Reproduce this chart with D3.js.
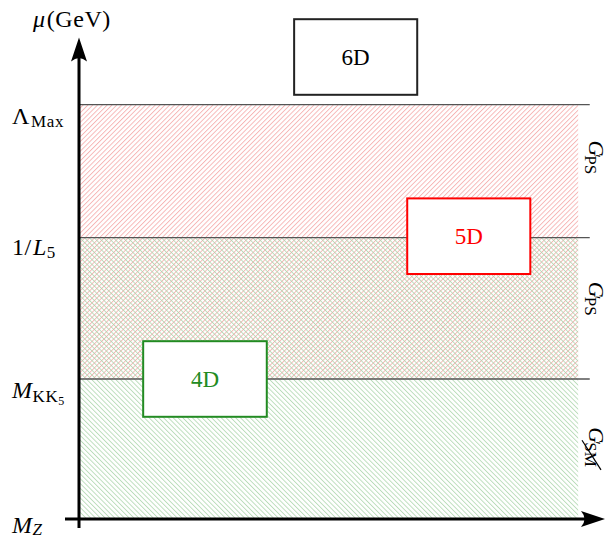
<!DOCTYPE html>
<html><head><meta charset="utf-8">
<script src="https://cdn.jsdelivr.net/npm/d3@7"></script>
<style>
html,body{margin:0;padding:0;background:#fff;}
svg{display:block;}
text{font-family:"Liberation Serif","DejaVu Serif",serif;}
</style></head>
<body>
<svg id="chart" width="608" height="538"></svg>
<script>
// ---- data ----
// energy levels (arbitrary log-scale units)
const levelNames = ["M_Z", "M_KK5", "1/L5", "Lambda_Max"];
const levelValues = [0, 1.0, 2.01, 2.96];
const axisTop = 3.44;
// hatched regions (x extent in axis units 0..100)
const regionNames = ["red", "green"];
const regionFrom = [1.0, 0];
const regionTo = [2.96, 2.01];
const regionXEnd = 94.9;
const lineXEnd = 97.1;
// boxes
const boxLabels = ["6D", "5D", "4D"];
const boxX0 = [40.9, 62.4, 12.2];
const boxX1 = [64.3, 85.8, 35.7];
const boxY0 = [3.03, 1.75, 0.73];
const boxY1 = [3.57, 2.29, 1.27];
const boxColors = ["#222", "#ff0000", "#228b22"];
// right-side group labels
const groupSub = ["PS", "PS", "SM"];
const groupCenter = [2.58, 1.57, 0.51];
const groupCancel = [false, false, true];

const svg = d3.select("#chart");
const x = d3.scaleLinear().domain([0, 100]).range([79, 605]);
const y = d3.scaleLinear().domain([0, 1]).range([519, 379]);

// patterns
const defs = svg.append("defs");
function hatch(id, color, angle) {
  const p = defs.append("pattern").attr("id", id).attr("patternUnits", "userSpaceOnUse")
    .attr("width", 3.4).attr("height", 3.4).attr("patternTransform", `rotate(${angle})`);
  p.append("line").attr("x1", 0.5).attr("y1", 0).attr("x2", 0.5).attr("y2", 3.4)
    .attr("stroke", color).attr("stroke-width", 0.75);
}
hatch("hRed", "#f4a2a2", 45);
hatch("hGreen", "#a8d4a8", -45);
const fills = {red: "url(#hRed)", green: "url(#hGreen)"};

svg.append("g").selectAll("rect").data(regionNames).join("rect")
  .attr("x", x(0)).attr("width", x(regionXEnd) - x(0))
  .attr("y", (d, i) => y(regionTo[i]))
  .attr("height", (d, i) => y(regionFrom[i]) - y(regionTo[i]))
  .attr("fill", d => fills[d]);

// level lines
svg.append("g").selectAll("line").data(levelValues.slice(1)).join("line")
  .attr("x1", x(0)).attr("x2", x(lineXEnd))
  .attr("y1", d => y(d)).attr("y2", d => y(d))
  .attr("stroke", "#555").attr("stroke-width", 1.3);

// boxes
const bg = svg.append("g").selectAll("g").data(boxLabels).join("g");
bg.append("rect")
  .attr("x", (d, i) => x(boxX0[i])).attr("width", (d, i) => x(boxX1[i]) - x(boxX0[i]))
  .attr("y", (d, i) => y(boxY1[i])).attr("height", (d, i) => y(boxY0[i]) - y(boxY1[i]))
  .attr("fill", "#fff").attr("stroke", (d, i) => boxColors[i]).attr("stroke-width", 2);
bg.append("text")
  .attr("x", (d, i) => (x(boxX0[i]) + x(boxX1[i])) / 2)
  .attr("y", (d, i) => (y(boxY0[i]) + y(boxY1[i])) / 2 + 8)
  .attr("text-anchor", "middle").attr("font-size", 23)
  .attr("fill", (d, i) => boxColors[i] === "#222" ? "#000" : boxColors[i])
  .text(d => d);

// axes
const ax = svg.append("g");
ax.append("line").attr("x1", x(0)).attr("x2", x(0)).attr("y1", 528).attr("y2", y(axisTop) + 14)
  .attr("stroke", "#000").attr("stroke-width", 3);
ax.append("line").attr("x1", 65).attr("x2", 592).attr("y1", y(0)).attr("y2", y(0))
  .attr("stroke", "#000").attr("stroke-width", 3);
// arrowheads
const tipY = y(axisTop);
ax.append("path").attr("d", `M${x(0)},${tipY} L${x(0)+8},${tipY+24} Q${x(0)},${tipY+17} ${x(0)-8},${tipY+24} Z`).attr("fill", "#000");
const tipX = x(100);
ax.append("path").attr("d", `M${tipX},${y(0)} L${tipX-24},${y(0)-8} Q${tipX-17},${y(0)} ${tipX-24},${y(0)+8} Z`).attr("fill", "#000");

// left labels
const L = svg.append("g").attr("font-size", 24).attr("letter-spacing", 0.6);
function addLabel(yy, parts) {
  const t = L.append("text").attr("x", 12).attr("y", yy);
  parts.forEach(p => {
    const s = t.append("tspan").text(p.t);
    if (p.i) s.attr("font-style", "italic");
    if (p.s) s.attr("font-size", p.s);
    if (p.dy) s.attr("dy", p.dy);
    if (p.dx) s.attr("dx", p.dx);
  });
  return t;
}
// mu(GeV)
L.append("text").attr("x", 33).attr("y", 27)
  .call(t => { t.append("tspan").attr("font-style", "italic").text("μ"); t.append("tspan").attr("dx", 1).text("(GeV)"); });
addLabel(y(levelValues[3]) + 19, [{t: "Λ"}, {t: "Max", s: 17, dy: 3, dx: 1}]);
addLabel(y(levelValues[2]) + 17, [{t: "1/"}, {t: "L", i: 1, dx: 1}, {t: "5", s: 17, dy: 3}]);
addLabel(y(levelValues[1]) + 19, [{t: "M", i: 1}, {t: "KK", s: 17, dy: 4}, {t: "5", s: 12, dy: 3}]);
addLabel(y(levelValues[0]) + 14, [{t: "M", i: 1}, {t: "Z", i: 1, s: 17, dy: 2}]);

// right labels (rotated clockwise)
groupSub.forEach((sub, i) => {
  const g = svg.append("g").attr("transform", `translate(589,${y(groupCenter[i])}) rotate(90)`);
  const G = g.append("text").attr("font-size", 22).attr("font-style", "italic").attr("y", 0).text("G");
  const gw = G.node().getComputedTextLength();
  const S = g.append("text").attr("font-size", 17).attr("y", 4).text(sub);
  const sw = S.node().getComputedTextLength();
  const x0 = -(gw + sw) / 2;
  G.attr("x", x0);
  S.attr("x", x0 + gw - 1);
  g.append("text").attr("font-size", 16).attr("x", x0 + gw - 2).attr("y", 0).text("′");
  if (groupCancel[i]) {
    g.append("line").attr("x1", x0 + gw - 3).attr("y1", 7).attr("x2", x0 + gw + sw + 2).attr("y2", -12)
      .attr("stroke", "#000").attr("stroke-width", 1.2);
  }
});
</script>
</body></html>
